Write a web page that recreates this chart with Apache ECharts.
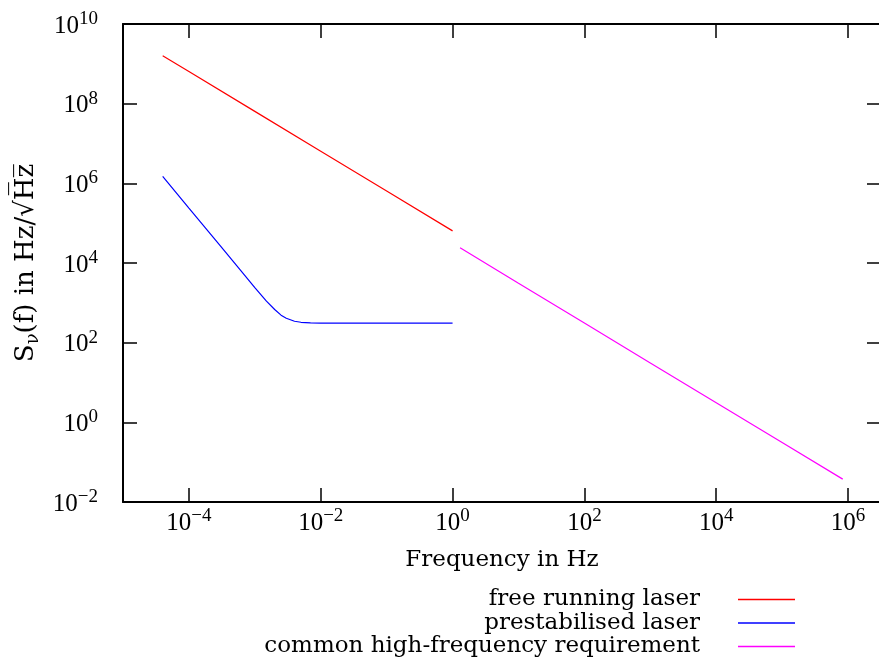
<!DOCTYPE html>
<html>
<head>
<meta charset="utf-8">
<script src="https://cdn.jsdelivr.net/npm/echarts@6/dist/echarts.min.js"></script>
<style>html,body{margin:0;padding:0;background:#fff}#c{width:879px;height:664px}</style>
</head>
<body>
<div id="c"></div>
<script>
// ---- data ----
const seriesNames = ['free running laser', 'prestabilised laser', 'common high-frequency requirement'];

const freeFreq = [4e-5, 1e-4, 1e-3, 1e-2, 1e-1, 1];
const freeVal  = [1.6e9, 6.4e8, 6.4e7, 6.4e6, 6.4e5, 6.4e4];

const preFreq = [4e-5, 1e-4, 3e-4, 6e-4, 1e-3, 1.5e-3, 2e-3, 2.5e-3, 3e-3, 4e-3, 5e-3, 7e-3, 1e-2, 1e-1, 1];
const preVal  = [1.5e6, 2.4e5, 2.7e4, 6.7e3, 2.4e3, 1.1e3, 680, 490, 410, 345, 325, 315, 311, 310, 310];

const hfFreq = [1.3, 10, 100, 1e3, 1e4, 1e5, 8.3e5];
const hfVal  = [2.4e4, 3.1e3, 310, 31, 3.1, 0.31, 0.0375];

const xTicks = [1e-4, 1e-2, 1, 1e2, 1e4, 1e6];
const yTicks = [1e-2, 1, 1e2, 1e4, 1e6, 1e8, 1e10];
const xRange = [1e-5, 3.1623e6];
const yRange = [1e-2, 1e10];

// ---- helpers ----
const pairs = (xs, ys) => xs.map((x, i) => [x, ys[i]]);
const TXT = 'DejaVu Serif';
const NUM = 'Liberation Serif';
function powLabel(v) {
  const e = Math.round(Math.log10(v));
  const s = e < 0 ? '\u2212' + (-e) : String(e);
  return '{b|10}{s|' + s + '}';
}
const powRich = {
  b: { fontFamily: NUM, fontSize: 25, lineHeight: 29, verticalAlign: 'bottom', color: '#000' },
  s: { fontFamily: NUM, fontSize: 19, lineHeight: 19, verticalAlign: 'top', color: '#000' }
};
const axisLineStyle = { color: '#000', width: 2 };
const tickStyle = { color: '#000', width: 1.5 };

const chart = echarts.init(document.getElementById('c'));
chart.setOption({
  animation: false,
  backgroundColor: '#fff',
  grid: { left: 123, top: 24, width: 758, height: 478, outerBoundsMode: 'none', containLabel: false },
  legend: {
    orient: 'vertical',
    right: 84,
    top: 588,
    padding: 0,
    align: 'right',
    icon: 'rect',
    itemWidth: 57,
    itemHeight: 1.5,
    itemGap: 0.5,
    textStyle: { fontFamily: TXT, fontSize: 23, lineHeight: 20, color: '#000', width: 445, align: 'right', padding: [0, 33, 0, 0] },
    data: seriesNames
  },
  xAxis: [{
    type: 'log', logBase: 10, min: xRange[0], max: xRange[1],
    position: 'bottom',
    name: 'Frequency in Hz', nameLocation: 'middle', nameGap: 47,
    nameTextStyle: { fontFamily: TXT, fontSize: 23, color: '#000' },
    axisLine: { show: true, lineStyle: axisLineStyle },
    axisTick: { show: true, inside: true, length: 14, lineStyle: tickStyle, customValues: xTicks },
    axisLabel: { show: true, margin: 5, formatter: powLabel, rich: powRich, customValues: xTicks },
    splitLine: { show: false }, minorTick: { show: false }
  }, {
    type: 'log', logBase: 10, min: xRange[0], max: xRange[1],
    position: 'top',
    axisLine: { show: true, lineStyle: axisLineStyle },
    axisTick: { show: true, inside: true, length: 14, lineStyle: tickStyle, customValues: xTicks },
    axisLabel: { show: false },
    splitLine: { show: false }
  }],
  yAxis: [{
    type: 'log', logBase: 10, min: yRange[0], max: yRange[1],
    position: 'left',
    name: '{a|S}{sub|\u03bd}{a|(f) in Hz/\u221aH\u0305z\u0305}',
    nameLocation: 'middle', nameRotate: 90, nameGap: 77,
    nameTextStyle: {
      rich: {
        a: { fontFamily: TXT, fontSize: 26, lineHeight: 32, verticalAlign: 'middle', color: '#000' },
        sub: { fontFamily: TXT, fontSize: 18, lineHeight: 18, verticalAlign: 'bottom', color: '#000' }
      }
    },
    axisLine: { show: true, lineStyle: axisLineStyle },
    axisTick: { show: true, inside: true, length: 14, lineStyle: tickStyle, customValues: yTicks },
    axisLabel: { show: true, margin: 25, formatter: powLabel, rich: powRich, customValues: yTicks },
    splitLine: { show: false }, minorTick: { show: false }
  }, {
    type: 'log', logBase: 10, min: yRange[0], max: yRange[1],
    position: 'right',
    axisLine: { show: true, lineStyle: axisLineStyle },
    axisTick: { show: true, inside: true, length: 14, lineStyle: tickStyle, customValues: yTicks },
    axisLabel: { show: false },
    splitLine: { show: false }
  }],
  series: [{
    name: seriesNames[0], type: 'line', xAxisIndex: 0, yAxisIndex: 0,
    data: pairs(freeFreq, freeVal), symbol: 'none', smooth: false,
    lineStyle: { color: '#ff0000', width: 1.2 }, itemStyle: { color: '#ff0000' }
  }, {
    name: seriesNames[1], type: 'line', xAxisIndex: 0, yAxisIndex: 0,
    data: pairs(preFreq, preVal), symbol: 'none', smooth: false,
    lineStyle: { color: '#0000ff', width: 1.2 }, itemStyle: { color: '#0000ff' }
  }, {
    name: seriesNames[2], type: 'line', xAxisIndex: 0, yAxisIndex: 0,
    data: pairs(hfFreq, hfVal), symbol: 'none', smooth: false,
    lineStyle: { color: '#ff00ff', width: 1.2 }, itemStyle: { color: '#ff00ff' }
  }]
});
</script>
</body>
</html>
